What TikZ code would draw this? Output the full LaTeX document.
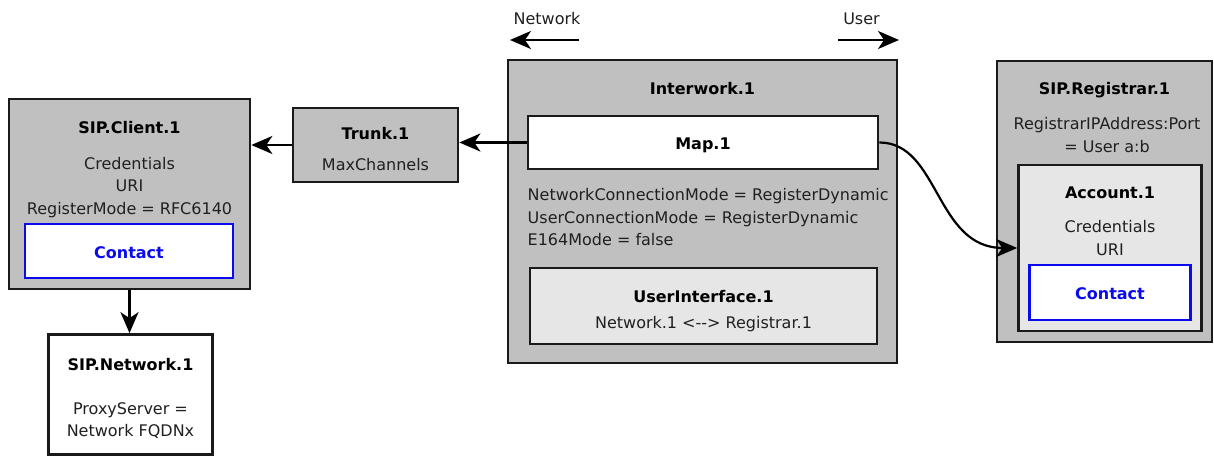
\documentclass[tikz,border=0pt]{standalone}
\usepackage{fontspec}
\setmainfont{DejaVu Sans}
\usetikzlibrary{arrows.meta,calc}
\definecolor{boxgray}{HTML}{C0C0C0}
\definecolor{boxlight}{HTML}{E6E6E6}
\definecolor{edge}{HTML}{1A1A1A}
\definecolor{txt}{HTML}{202020}
\definecolor{cblue}{HTML}{0A0AEE}
\tikzset{
  x=1pt, y=-1pt,
  panel/.style={draw=edge, line width=2.7pt, inner sep=0pt, fill=boxgray},
  inner/.style={panel, fill=boxlight},
  plain/.style={panel, fill=white},
  contactbox/.style={draw=cblue, line width=2.7pt, inner sep=0pt, fill=white},
  label/.style={inner sep=0pt, anchor=base, text=txt, font=\fontsize{16}{18}\selectfont},
  title/.style={label, text=black, font=\fontsize{16}{18}\selectfont\bfseries},
  bluetitle/.style={title, text=cblue},
  conn/.style={draw=black, line width=2.2pt, -{Stealth[length=21pt,width=18pt,inset=6pt]}}
}
\begin{document}
\begin{tikzpicture}
\useasboundingbox[fill=white] (0,0) rectangle (1214,457);

% SIP.Client.1
\node[panel, minimum width=241pt, minimum height=190pt] (client) at (129.5,194) {};
\node[title] (clientT) at (129.5,134) {SIP.Client.1};
\node[label] (clientA) at (129.5,169) {Credentials};
\node[label] (clientB) at (129.5,191.7) {URI};
\node[label] (clientC) at (129.5,214.3) {RegisterMode = RFC6140};
\node[contactbox, minimum width=208pt, minimum height=54pt] (clientContact) at (129,251) {};
\node[bluetitle] (clientContactT) at (129,258) {Contact};

% Trunk.1
\node[panel, minimum width=165pt, minimum height=74pt] (trunk) at (375.5,145) {};
\node[title] (trunkT) at (375.5,139.3) {Trunk.1};
\node[label] (trunkA) at (375.5,170.7) {MaxChannels};

% direction hints
\node[label] (netL) at (547,25) {Network};
\node[label] (userL) at (861.5,25) {User};
\coordinate (netA) at (579,40);
\coordinate (netB) at (510,40);
\coordinate (userA) at (838,40);
\coordinate (userB) at (899,40);
\draw[conn] (netA) -- (netB);
\draw[conn] (userA) -- (userB);

% Interwork.1
\node[panel, minimum width=389pt, minimum height=303pt] (interwork) at (702.5,211.5) {};
\node[title] (interworkT) at (702.5,94.3) {Interwork.1};
\node[plain, minimum width=350pt, minimum height=53pt] (map) at (703,142.5) {};
\node[title] (mapT) at (703,150) {Map.1};
\node[label, anchor=base west] (iwA) at (527.5,200.7) {NetworkConnectionMode = RegisterDynamic};
\node[label, anchor=base west] (iwB) at (527.5,223.3) {UserConnectionMode = RegisterDynamic};
\node[label, anchor=base west] (iwC) at (527.5,245.3) {E164Mode = false};
\node[inner, minimum width=347pt, minimum height=76pt] (ui) at (703.5,306) {};
\node[title] (uiT) at (703.5,302.7) {UserInterface.1};
\node[label] (uiA) at (703.5,328.3) {Network.1 <{-}{-}> Registrar.1};

% SIP.Registrar.1
\node[panel, minimum width=215pt, minimum height=281pt] (registrar) at (1104.5,201.5) {};
\node[title] (registrarT) at (1104.5,95) {SIP.Registrar.1};
\node[label] (registrarA) at (1107,130) {RegistrarIPAddress:Port};
\node[label] (registrarB) at (1107,152.7) {= User a:b};
\node[inner, minimum width=183pt, minimum height=166pt] (account) at (1110,248) {};
\node[title] (accountT) at (1110,198.3) {Account.1};
\node[label] (accountA) at (1110,232.7) {Credentials};
\node[label] (accountB) at (1110,255) {URI};
\node[contactbox, minimum width=161pt, minimum height=55pt] (accountContact) at (1110,292.5) {};
\node[bluetitle] (accountContactT) at (1110,299.3) {Contact};

% SIP.Network.1
\node[plain, minimum width=164pt, minimum height=120pt] (network) at (130.5,394.5) {};
\node[title] (networkT) at (130.5,370.7) {SIP.Network.1};
\node[label] (networkA) at (130.5,414.5) {ProxyServer =};
\node[label] (networkB) at (130.5,436.7) {Network FQDNx};

% connectors
\draw[conn] (trunk.west) -- (trunk.west -| client.east);
\draw[conn] (map.west) -- (map.west -| trunk.east);
\draw[conn] (client.south) -- (client.south |- network.north);
\draw[conn] (map.east) .. controls ($(map.east)+(60,0)$) and ($(account.west)+(-82,0)$) .. (account.west);
\end{tikzpicture}
\end{document}
